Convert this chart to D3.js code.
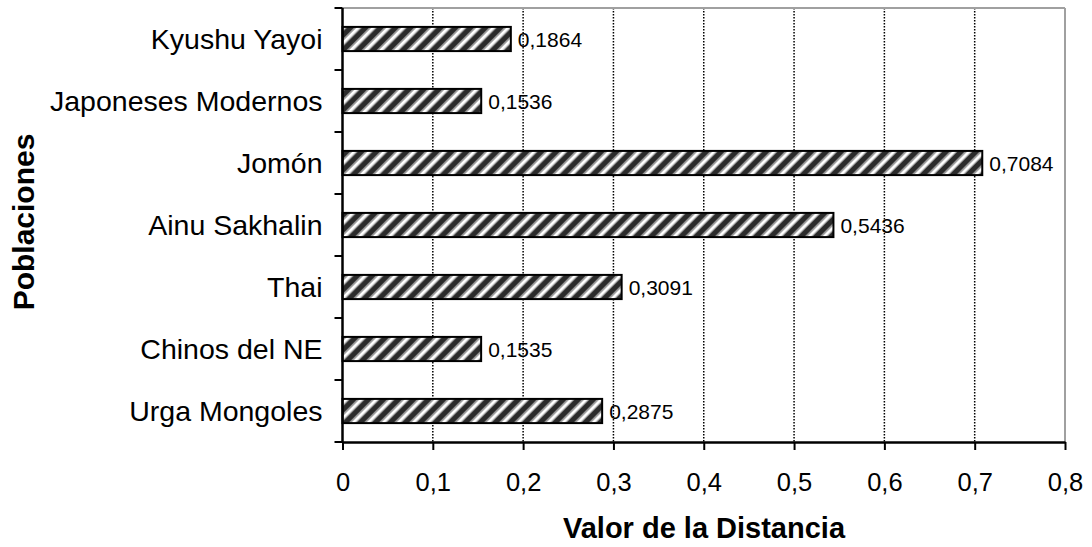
<!DOCTYPE html>
<html><head><meta charset="utf-8">
<script src="https://cdn.jsdelivr.net/npm/d3@7"></script>
<style>
html,body{margin:0;padding:0;background:#fff;}
text{font-family:"Liberation Sans",Arial,sans-serif;fill:#000;}
</style></head>
<body>
<svg id="chart" width="1092" height="547"></svg>
<script>
const categories = ["Kyushu Yayoi","Japoneses Modernos","Jomón","Ainu Sakhalin","Thai","Chinos del NE","Urga Mongoles"];
const values = [0.1864,0.1536,0.7084,0.5436,0.3091,0.1535,0.2875];
const valueLabels = ["0,1864","0,1536","0,7084","0,5436","0,3091","0,1535","0,2875"];
const xTicks = [0,0.1,0.2,0.3,0.4,0.5,0.6,0.7,0.8];
const xTickLabels = ["0","0,1","0,2","0,3","0,4","0,5","0,6","0,7","0,8"];
const xTitle = "Valor de la Distancia";
const yTitle = "Poblaciones";

const svg = d3.select("#chart");
const L = 342.5, R = 1065, T = 8, B = 442;
const x = d3.scaleLinear().domain([0,0.8]).range([L,R]);
const y = d3.scaleBand().domain(categories).range([T,B]).padding(0);
const bw = y.bandwidth();
const barH = bw*0.39;

// hatch pattern
const defs = svg.append("defs");
const pw = 10.6;
const pat = defs.append("pattern").attr("id","hatch").attr("patternUnits","userSpaceOnUse")
  .attr("width",pw).attr("height",pw).attr("patternTransform","rotate(45)");
pat.append("rect").attr("width",pw).attr("height",pw).attr("fill","#fff");
pat.append("rect").attr("x",0).attr("width",pw*0.5).attr("height",pw).attr("fill","#2b2b2b");
pat.append("rect").attr("x",pw*0.5).attr("width",1.2).attr("height",pw).attr("fill","#8a8a8a");
pat.append("rect").attr("x",pw-1.2).attr("width",1.2).attr("height",pw).attr("fill","#8a8a8a");

// gridlines
svg.append("g").selectAll("line").data(xTicks.filter(d=>d>0 && d<0.8)).join("line")
  .attr("x1",d=>x(d)).attr("x2",d=>x(d)).attr("y1",T).attr("y2",B)
  .attr("stroke","#000").attr("stroke-width",1.5).attr("stroke-dasharray","1.5,1.5");

// top & right border
svg.append("line").attr("x1",L).attr("x2",R).attr("y1",T).attr("y2",T).attr("stroke","#a0a0a0").attr("stroke-width",2);
svg.append("line").attr("x1",R).attr("x2",R).attr("y1",T).attr("y2",B).attr("stroke","#a0a0a0").attr("stroke-width",2);

// bars
svg.append("g").selectAll("rect").data(categories).join("rect")
  .attr("x",x(0)).attr("y",c=>y(c)+(bw-barH)/2)
  .attr("width",(c,i)=>x(values[i])-x(0)).attr("height",barH)
  .attr("fill","url(#hatch)").attr("stroke","#000").attr("stroke-width",2);

// value labels
svg.append("g").selectAll("text").data(categories).join("text")
  .attr("x",(c,i)=>x(values[i])+7).attr("y",c=>y(c)+bw/2+7.5)
  .attr("font-size",21).text((c,i)=>valueLabels[i]);

// x axis
const xAxis = d3.axisBottom(x).tickValues(xTicks).tickFormat((d,i)=>xTickLabels[i]).tickSize(8).tickSizeOuter(0);
const gx = svg.append("g").attr("transform",`translate(0,${B})`).call(xAxis);
gx.select(".domain").attr("stroke","#000").attr("stroke-width",2.5);
gx.selectAll(".tick line").attr("stroke","#000").attr("stroke-width",2);
gx.selectAll(".tick text").attr("font-size",25.5).attr("font-family","Liberation Sans, Arial, sans-serif").attr("fill","#000").attr("dy",0).attr("y",49);

// y axis with ticks at band boundaries
svg.append("line").attr("x1",L).attr("x2",L).attr("y1",T).attr("y2",B).attr("stroke","#000").attr("stroke-width",2.5);
const bounds = categories.map(c=>y(c)).concat([B]);
svg.append("g").selectAll("line").data(bounds).join("line")
  .attr("x1",L-8).attr("x2",L).attr("y1",d=>d).attr("y2",d=>d).attr("stroke","#000").attr("stroke-width",2);
svg.append("g").selectAll("text").data(categories).join("text")
  .attr("x",L-20).attr("y",c=>y(c)+bw/2+10).attr("text-anchor","end")
  .attr("font-size",28.5).text(c=>c);

// titles
svg.append("text").attr("x",704).attr("y",538).attr("text-anchor","middle")
  .attr("font-size",29).attr("font-weight","bold").text(xTitle);
svg.append("text").attr("transform","translate(34,222) rotate(-90)").attr("text-anchor","middle")
  .attr("font-size",30).attr("font-weight","bold").text(yTitle);
</script>
</body></html>
